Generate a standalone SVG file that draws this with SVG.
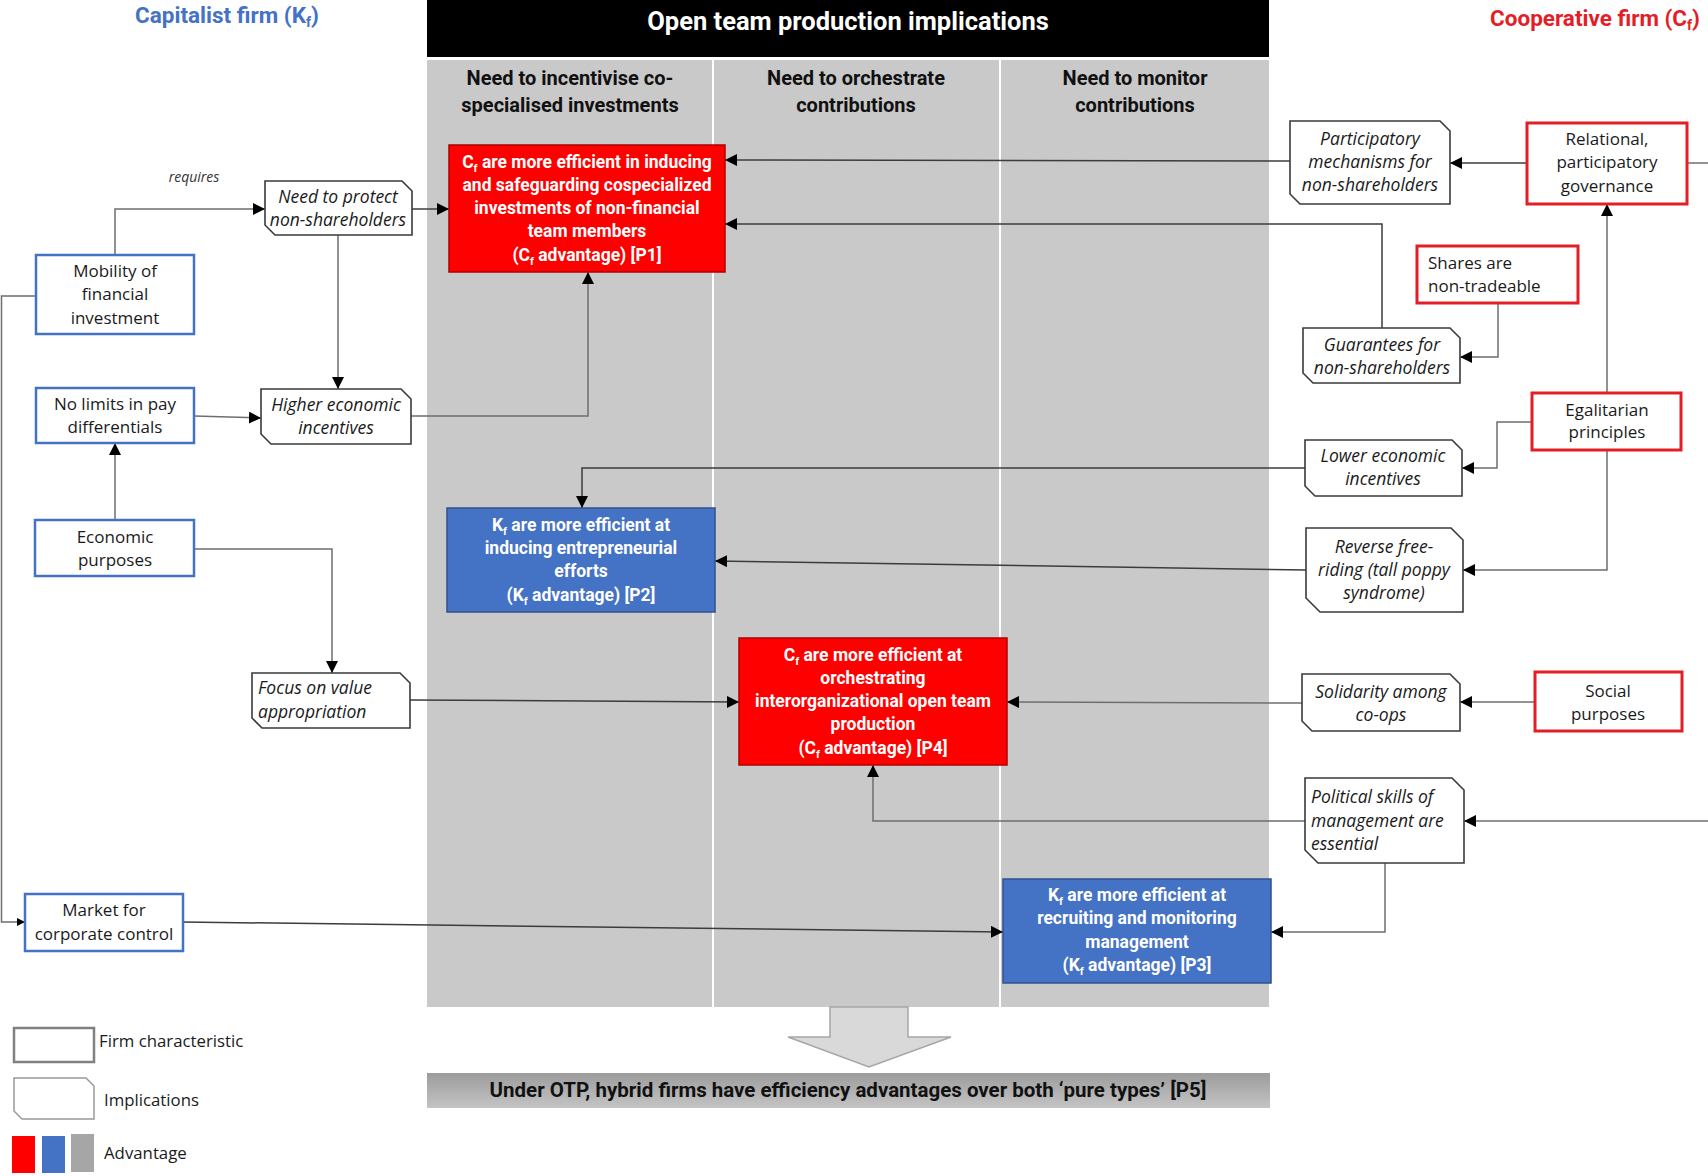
<svg xmlns="http://www.w3.org/2000/svg" width="1708" height="1176" viewBox="0 0 1708 1176">
<defs>
<style>
.title{font-family:Roboto,"Liberation Sans",sans-serif;font-weight:bold;}
.colh{font-family:Roboto,"Liberation Sans",sans-serif;font-weight:bold;font-size:20px;fill:#111;text-anchor:middle;}
.adv{font-family:Roboto,"Liberation Sans",sans-serif;font-weight:bold;font-size:17.5px;fill:#fff;text-anchor:middle;}
.chr{font-family:"Open Sans","Liberation Sans",sans-serif;font-size:17px;fill:#1a1a1a;text-anchor:middle;}
.imp{font-family:"Open Sans","Liberation Sans",sans-serif;font-style:italic;font-size:17.5px;fill:#1a1a1a;text-anchor:middle;}
.l{text-anchor:start;}
.kbox{fill:#fff;stroke:#4472C4;stroke-width:2.5;}
.cbox{fill:#fff;stroke:#E41E26;stroke-width:3;}
.ibox{fill:#fff;stroke:#3a3a3a;stroke-width:1.6;}
.radv{fill:#FF0000;stroke:#B00000;stroke-width:1.5;}
.badv{fill:#4472C4;stroke:#2F528F;stroke-width:1.5;}
.con{fill:none;stroke:#6e6e6e;stroke-width:1.5;marker-end:url(#arr);}
.dark{stroke:#3c3c3c;}
.plain{fill:none;stroke:#6e6e6e;stroke-width:1.5;}
.leg{font-family:"Open Sans","Liberation Sans",sans-serif;font-size:16.8px;fill:#1a1a1a;}
</style>
<marker id="arr" markerWidth="12" markerHeight="12" viewBox="0 0 12 12" refX="12" refY="6" orient="auto" markerUnits="userSpaceOnUse">
<path d="M0,0 L12,6 L0,12 Z" fill="#000"/>
</marker>
<marker id="arrs" markerWidth="8" markerHeight="8" viewBox="0 0 8 8" refX="8" refY="4" orient="auto" markerUnits="userSpaceOnUse">
<path d="M0,0 L8,4 L0,8 Z" fill="#000"/>
</marker>
<linearGradient id="barg" x1="0" y1="0" x2="0" y2="1">
<stop offset="0" stop-color="#9C9C9C"/>
<stop offset="1" stop-color="#C4C4C4"/>
</linearGradient>
</defs>

<rect width="1708" height="1176" fill="#fff"/>

<!-- Panel -->
<g id="panel">
<rect x="427" y="0" width="842" height="57" fill="#000"/>
<text class="title" x="848" y="30" font-size="25.5" fill="#fff" text-anchor="middle">Open team production implications</text>
<rect x="427" y="60" width="842" height="947" fill="#C9C9C9"/>
<line x1="713" y1="60" x2="713" y2="1007" stroke="#fff" stroke-width="2"/>
<line x1="1000" y1="60" x2="1000" y2="1007" stroke="#fff" stroke-width="2"/>
<text class="colh" x="570" y="85">Need to incentivise co-</text>
<text class="colh" x="570" y="112">specialised investments</text>
<text class="colh" x="856" y="85">Need to orchestrate</text>
<text class="colh" x="856" y="112">contributions</text>
<text class="colh" x="1135" y="85">Need to monitor</text>
<text class="colh" x="1135" y="112">contributions</text>
</g>

<text class="title" x="227" y="23" font-size="22.5" fill="#4472C4" text-anchor="middle">Capitalist firm (K<tspan font-size="14" dy="4">f</tspan><tspan dy="-4">)</tspan></text>
<text class="title" x="1700" y="26" font-size="22.5" fill="#E41E26" text-anchor="end">Cooperative firm (C<tspan font-size="14" dy="4">f</tspan><tspan dy="-4">)</tspan></text>

<!-- Connectors -->
<g id="connectors">
<path class="con" d="M115,255 V209 H265"/>
<path class="plain" d="M36,296 H1.5 V922 H25" marker-end="url(#arrs)"/>
<path class="con dark" d="M412,209 H449"/>
<path class="con" d="M338,235 V389"/>
<path class="con" d="M194,416 L261,418"/>
<path class="con" d="M411,416 H588 V272"/>
<path class="con dark" d="M1290,161 L725,160"/>
<path class="con dark" d="M1382,328 V224 H725"/>
<path class="con dark" d="M1527,163 H1450"/>
<path class="plain dark" d="M1687,163 H1708"/>
<path class="con" d="M1498,303 V357 H1460"/>
<path class="con" d="M1607,393 V204"/>
<path class="con" d="M1532,422 H1497 V468 H1462"/>
<path class="con" d="M1607,450 V570 H1463"/>
<path class="con dark" d="M1305,468 H582 V508"/>
<path class="con dark" d="M1306,570 L715,561"/>
<path class="con" d="M1302,703 L1007,702"/>
<path class="con" d="M1535,702 H1460"/>
<path class="con dark" d="M410,700 L739,702"/>
<path class="con" d="M115,520 V443"/>
<path class="con" d="M194,549 H332 V673"/>
<path class="con" d="M1305,821 H873 V765"/>
<path class="con" d="M1708,821 H1464"/>
<path class="con" d="M1385,863 V932 H1271"/>
<path class="con dark" d="M183,922 L1003,932"/>
<text x="194" y="182" font-family="'Open Sans','Liberation Sans',sans-serif" font-style="italic" font-size="14" fill="#333" text-anchor="middle">requires</text>
</g>

<!-- Capitalist characteristics -->
<g id="mobility">
<rect class="kbox" x="36" y="255" width="158" height="79"/>
<text class="chr" x="115" y="277">Mobility of</text>
<text class="chr" x="115" y="300">financial</text>
<text class="chr" x="115" y="324">investment</text>
</g>
<g id="nolimits">
<rect class="kbox" x="36" y="388" width="158" height="55"/>
<text class="chr" x="115" y="410">No limits in pay</text>
<text class="chr" x="115" y="433">differentials</text>
</g>
<g id="economic">
<rect class="kbox" x="35" y="520" width="159" height="56"/>
<text class="chr" x="115" y="543">Economic</text>
<text class="chr" x="115" y="566">purposes</text>
</g>
<g id="market">
<rect class="kbox" x="25" y="894" width="158" height="57"/>
<text class="chr" x="104" y="916">Market for</text>
<text class="chr" x="104" y="940">corporate control</text>
</g>

<!-- Capitalist implications -->
<g id="protect">
<path class="ibox" d="M265,181 H402 L412,191 V235 H275 L265,225 Z"/>
<text class="imp" x="338" y="203">Need to protect</text>
<text class="imp" x="338" y="226">non-shareholders</text>
</g>
<g id="higher">
<path class="ibox" d="M261,389 H401 L411,399 V444 H271 L261,434 Z"/>
<text class="imp" x="336" y="411">Higher economic</text>
<text class="imp" x="336" y="434">incentives</text>
</g>
<g id="focus">
<path class="ibox" d="M252,673 H400 L410,683 V728 H262 L252,718 Z"/>
<text class="imp l" x="258" y="694">Focus on value</text>
<text class="imp l" x="258" y="718">appropriation</text>
</g>

<!-- Advantages -->
<g id="p1">
<rect class="radv" x="449" y="145" width="276" height="127"/>
<text class="adv" x="587" y="168">C<tspan font-size="11" dy="4">f</tspan><tspan dy="-4"> are more efficient in inducing</tspan></text>
<text class="adv" x="587" y="191">and safeguarding cospecialized</text>
<text class="adv" x="587" y="214">investments of non-financial</text>
<text class="adv" x="587" y="237">team members</text>
<text class="adv" x="587" y="261">(C<tspan font-size="11" dy="4">f</tspan><tspan dy="-4"> advantage) [P1]</tspan></text>
</g>
<g id="p2">
<rect class="badv" x="447" y="508" width="268" height="104"/>
<text class="adv" x="581" y="531">K<tspan font-size="11" dy="4">f</tspan><tspan dy="-4">  are more efficient at</tspan></text>
<text class="adv" x="581" y="554">inducing entrepreneurial</text>
<text class="adv" x="581" y="577">efforts</text>
<text class="adv" x="581" y="601">(K<tspan font-size="11" dy="4">f</tspan><tspan dy="-4"> advantage) [P2]</tspan></text>
</g>
<g id="p4">
<rect class="radv" x="739" y="638" width="268" height="127"/>
<text class="adv" x="873" y="661">C<tspan font-size="11" dy="4">f</tspan><tspan dy="-4">  are more efficient  at</tspan></text>
<text class="adv" x="873" y="684">orchestrating</text>
<text class="adv" x="873" y="707">interorganizational open team</text>
<text class="adv" x="873" y="730">production</text>
<text class="adv" x="873" y="754">(C<tspan font-size="11" dy="4">f</tspan><tspan dy="-4"> advantage) [P4]</tspan></text>
</g>
<g id="p3">
<rect class="badv" x="1003" y="879" width="268" height="104"/>
<text class="adv" x="1137" y="901">K<tspan font-size="11" dy="4">f</tspan><tspan dy="-4">  are more efficient at</tspan></text>
<text class="adv" x="1137" y="924">recruiting and monitoring</text>
<text class="adv" x="1137" y="948">management</text>
<text class="adv" x="1137" y="971">(K<tspan font-size="11" dy="4">f</tspan><tspan dy="-4"> advantage) [P3]</tspan></text>
</g>

<!-- Cooperative implications -->
<g id="participatory">
<path class="ibox" d="M1290,121 H1440 L1450,131 V204 H1300 L1290,194 Z"/>
<text class="imp" x="1370" y="145">Participatory</text>
<text class="imp" x="1370" y="168">mechanisms for</text>
<text class="imp" x="1370" y="191">non-shareholders</text>
</g>
<g id="guarantees">
<path class="ibox" d="M1303,328 H1450 L1460,338 V383 H1313 L1303,373 Z"/>
<text class="imp" x="1382" y="351">Guarantees for</text>
<text class="imp" x="1382" y="374">non-shareholders</text>
</g>
<g id="lower">
<path class="ibox" d="M1305,440 H1452 L1462,450 V496 H1315 L1305,486 Z"/>
<text class="imp" x="1383" y="462">Lower economic</text>
<text class="imp" x="1383" y="485">incentives</text>
</g>
<g id="reverse">
<path class="ibox" d="M1306,528 H1451 L1463,540 V612 H1320 L1306,598 Z"/>
<text class="imp" x="1384" y="553">Reverse free-</text>
<text class="imp" x="1384" y="576">riding (tall poppy</text>
<text class="imp" x="1384" y="599">syndrome)</text>
</g>
<g id="solidarity">
<path class="ibox" d="M1302,674 H1450 L1460,684 V731 H1312 L1302,721 Z"/>
<text class="imp" x="1381" y="698">Solidarity among</text>
<text class="imp" x="1381" y="721">co-ops</text>
</g>
<g id="political">
<path class="ibox" d="M1305,778 H1452 L1464,790 V863 H1318 L1305,850 Z"/>
<text class="imp l" x="1311" y="803">Political skills of</text>
<text class="imp l" x="1311" y="827">management are</text>
<text class="imp l" x="1311" y="850">essential</text>
</g>

<!-- Cooperative characteristics -->
<g id="relational">
<rect class="cbox" x="1527" y="123" width="160" height="81"/>
<text class="chr" x="1607" y="145">Relational,</text>
<text class="chr" x="1607" y="168">participatory</text>
<text class="chr" x="1607" y="192">governance</text>
</g>
<g id="shares">
<rect class="cbox" x="1417" y="246" width="161" height="57"/>
<text class="chr l" x="1428" y="269">Shares are</text>
<text class="chr l" x="1428" y="292">non-tradeable</text>
</g>
<g id="egalitarian">
<rect class="cbox" x="1532" y="393" width="149" height="57"/>
<text class="chr" x="1607" y="416">Egalitarian</text>
<text class="chr" x="1607" y="438">principles</text>
</g>
<g id="social">
<rect class="cbox" x="1535" y="672" width="147" height="59"/>
<text class="chr" x="1608" y="697">Social</text>
<text class="chr" x="1608" y="720">purposes</text>
</g>

<!-- Down arrow and conclusion -->
<g id="downarrow">
<path d="M830,1007 H908 V1037 H951 L869,1067 L788,1037 H830 Z" fill="#D9D9D9" stroke="#A6A6A6" stroke-width="1.5"/>
</g>
<g id="conclusion">
<rect x="427" y="1073" width="843" height="35" fill="url(#barg)"/>
<text class="title" x="848" y="1097" font-size="20.5" fill="#111" text-anchor="middle">Under OTP, hybrid firms have efficiency advantages over both ‘pure types’ [P5]</text>
</g>

<!-- Legend -->
<g id="legend">
<rect x="14" y="1028" width="80" height="34" fill="#fff" stroke="#808080" stroke-width="2.5"/>
<text class="leg" x="99" y="1047">Firm characteristic</text>
<path d="M14,1078 H86 L94,1086 V1119 H22 L14,1111 Z" fill="#fff" stroke="#999" stroke-width="1.5"/>
<text class="leg" x="104" y="1106">Implications</text>
<rect x="12" y="1136" width="23" height="37" fill="#FF0000"/>
<rect x="42" y="1136" width="23" height="37" fill="#4472C4"/>
<rect x="71" y="1134" width="23" height="38" fill="#A6A6A6"/>
<text class="leg" x="104" y="1159">Advantage</text>
</g>
</svg>
